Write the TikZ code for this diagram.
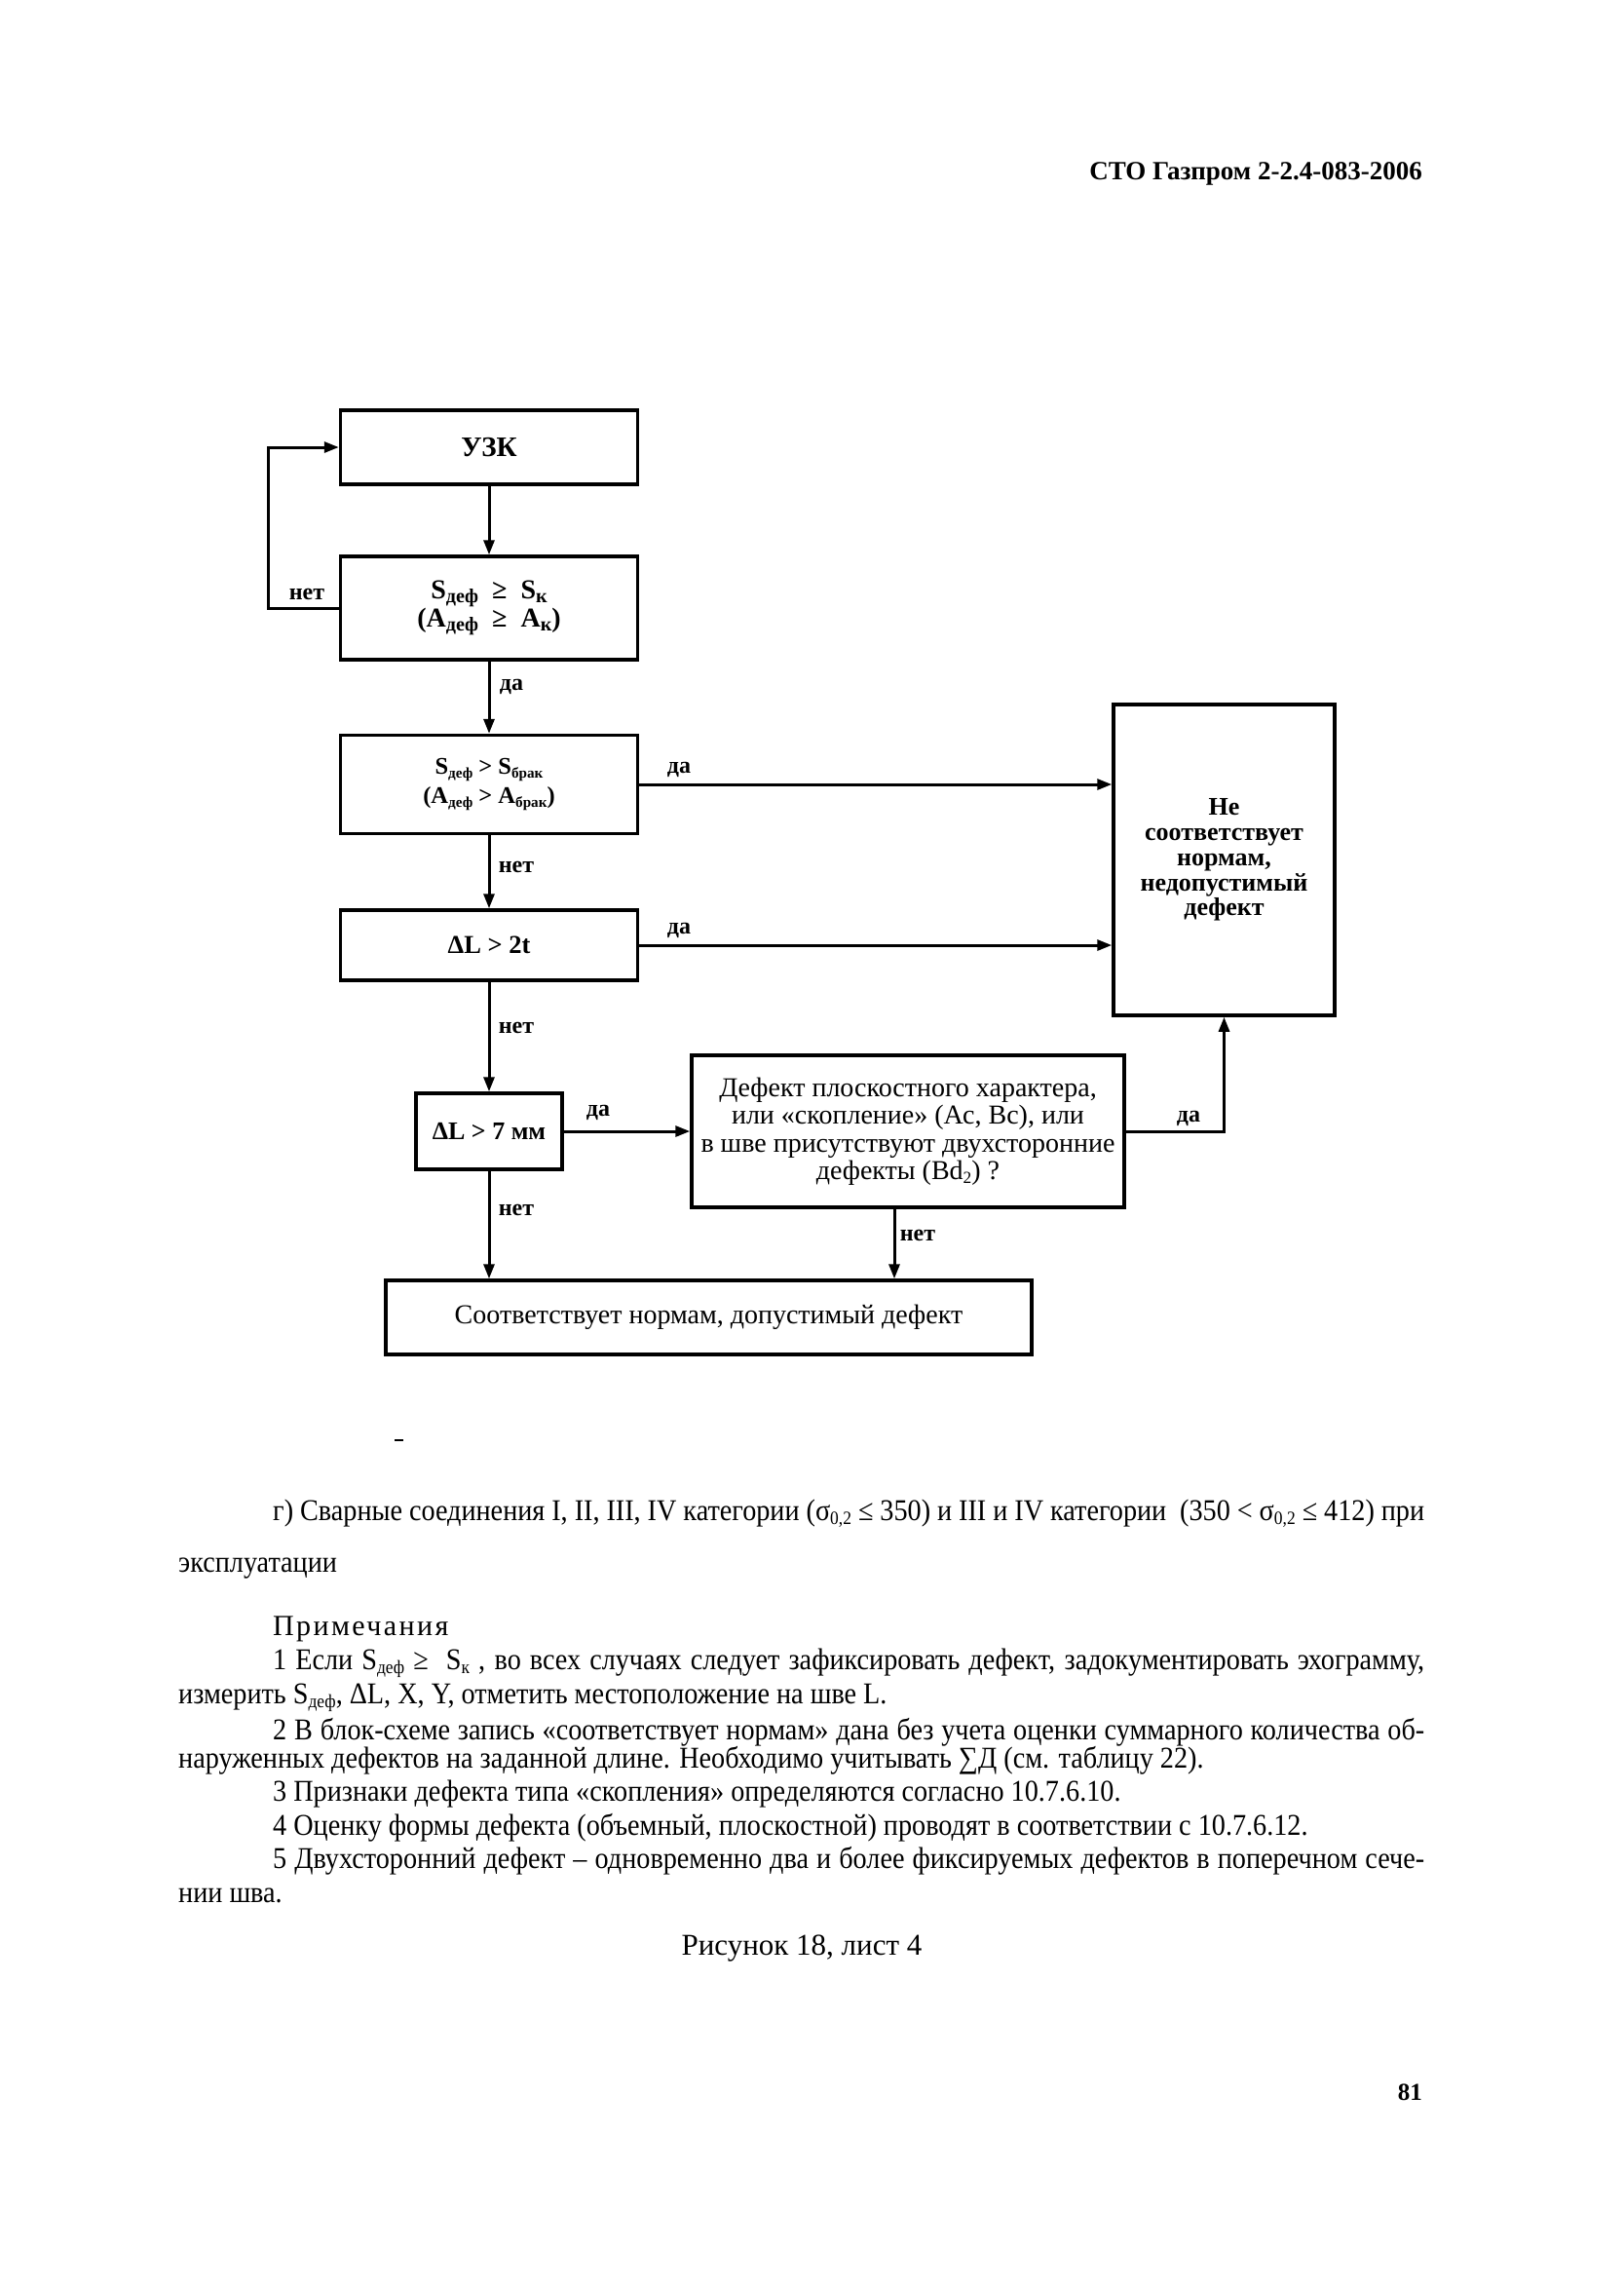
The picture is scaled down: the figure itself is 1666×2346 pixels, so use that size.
\documentclass[tikz,border=0pt]{standalone}
\usepackage{fontspec}
\setmainfont{Liberation Serif}
\newfontfamily\condfont[FakeStretch=0.91]{Liberation Serif}
\newfontfamily\spacedfont[LetterSpace=8]{Liberation Serif}
\usetikzlibrary{arrows.meta}
\newcommand{\lo}[2][0.62]{\raisebox{-0.3ex}{\scalebox{#1}{#2}}}
\newcommand{\fs}[2]{\fontsize{#1}{#2}\selectfont}
\begin{document}
\begin{tikzpicture}[x=1pt,y=-1pt,
  box/.style={draw, line width=3.5pt, inner sep=0pt, align=center},
  conn/.style={line width=3pt, -{Triangle[length=15pt,width=11pt]}},
  lbl/.style={font=\bfseries\fs{24}{24}, inner sep=0pt},
  body/.style={anchor=base west, inner sep=0pt, font=\condfont\fs{31}{31}},
]
\fill[white] (0,0) rectangle (1666,2346);
\useasboundingbox (0,0) rectangle (1666,2346);

% header
\node[anchor=base east, inner sep=0pt, font=\bfseries\fs{27}{27}] (hdr) at (1460,184) {СТО Газпром 2-2.4-083-2006};

% boxes
\node[box, minimum width=305pt, minimum height=76pt, font=\bfseries\fs{29}{29}] (uzk) at (502,459) {УЗК};
\node[box, minimum width=305pt, minimum height=106pt, font=\bfseries\fs{28}{27}] (c1) at (502,624) {S\lo[0.72]{деф}\enspace≥\enspace S\lo[0.72]{к}\\(A\lo[0.72]{деф}\enspace≥\enspace A\lo[0.72]{к})};
\node[box, minimum width=305pt, minimum height=101pt, font=\bfseries\fs{24.5}{30}] (c2) at (502,805) {S\lo{деф} > S\lo{брак}\\(A\lo{деф} > A\lo{брак})};
\node[box, minimum width=305pt, minimum height=72pt, font=\bfseries\fs{26.5}{26}] (c3) at (502,970) {ΔL > 2t};
\node[box, minimum width=227pt, minimum height=319pt, font=\bfseries\fs{26}{25.8}] (big) at (1256.5,882.5) {Не\\соответствует\\нормам,\\недопустимый\\дефект};
\node[box, minimum width=150pt, minimum height=78pt, font=\bfseries\fs{26}{26}] (c4) at (502,1161) {ΔL > 7 мм};
\node[box, minimum width=444pt, minimum height=156pt, font=\fs{28}{28.5}] (def) at (932,1161) {Дефект плоскостного характера,\\или «скопление» (Ас, Вс), или\\в шве присутствуют двухсторонние\\дефекты (Bd\lo{2}) ?};
\node[box, minimum width=663pt, minimum height=76pt, font=\fs{28}{28}] (fin) at (727.5,1352) {Соответствует нормам, допустимый дефект};

% connectors
\coordinate (lp) at (275,624);
\draw[conn] (uzk) -- (c1);
\draw[conn] (c1.west) -- (lp) |- (uzk.west);
\node[lbl] (n1) at (315,610) {нет};
\draw[conn] (c1) -- (c2);
\node[lbl] (d1) at (525,705) {да};
\draw[conn] (c2.east) -- (c2.east -| big.west);
\node[lbl] (d2) at (697,790) {да};
\draw[conn] (c2) -- (c3);
\node[lbl] (n2) at (530,890) {нет};
\draw[conn] (c3.east) -- (c3.east -| big.west);
\node[lbl] (d3) at (697,955) {да};
\draw[conn] (c3) -- (c4);
\node[lbl] (n3) at (530,1055) {нет};
\draw[conn] (c4) -- (def);
\node[lbl] (d4) at (614,1142) {да};
\draw[conn] (c4) -- (c4 |- fin.north);
\node[lbl] (n4) at (530,1242) {нет};
\coordinate (dx) at (918,1161);
\draw[conn] (dx |- def.south) -- (dx |- fin.north);
\node[lbl] (n5) at (942,1268) {нет};
\draw[conn] (def.east) -| (big.south);
\node[lbl] (d5) at (1220,1148) {да};

% stray mark
\draw[line width=2pt] (405,1478) -- (414,1478);

% text below
\node[body] (t1) at (280,1560) {\makebox[1182pt][s]{г) Сварные соединения I, II, III, IV категории (σ\lo{0,2} ≤ 350) и III и IV категории \ (350 < σ\lo{0,2} ≤ 412) при}};
\node[body] (t2) at (183,1613) {эксплуатации};
\node[body, font=\spacedfont\fs{30}{30}] (t3) at (280,1678) {Примечания};
\node[body] (t4) at (280,1713) {\makebox[1182pt][s]{1 Если S\lo{деф} ≥ \ S\lo{к} , во всех случаях следует зафиксировать дефект, задокументировать эхограмму,}};
\node[body] (t5) at (183,1748) {измерить S\lo{деф}, ΔL, X, Y, отметить местоположение на шве L.};
\node[body] (t6) at (280,1785) {\makebox[1182pt][s]{2 В блок-схеме запись «соответствует нормам» дана без учета оценки суммарного количества об-}};
\node[body] (t7) at (183,1814) {наруженных дефектов на заданной длине. Необходимо учитывать ∑Д (см. таблицу 22).};
\node[body] (t8) at (280,1848) {3 Признаки дефекта типа «скопления» определяются согласно 10.7.6.10.};
\node[body] (t9) at (280,1883) {4 Оценку формы дефекта (объемный, плоскостной) проводят в соответствии с 10.7.6.12.};
\node[body] (t10) at (280,1917) {\makebox[1182pt][s]{5 Двухсторонний дефект – одновременно два и более фиксируемых дефектов в поперечном сече-}};
\node[body] (t11) at (183,1952) {нии шва.};
\node[anchor=base, inner sep=0pt, font=\fs{31}{31}] (cap) at (823,2006) {Рисунок 18, лист 4};
\node[anchor=base east, inner sep=0pt, font=\bfseries\fs{25}{25}] (pg) at (1460,2155) {81};
\end{tikzpicture}
\end{document}
